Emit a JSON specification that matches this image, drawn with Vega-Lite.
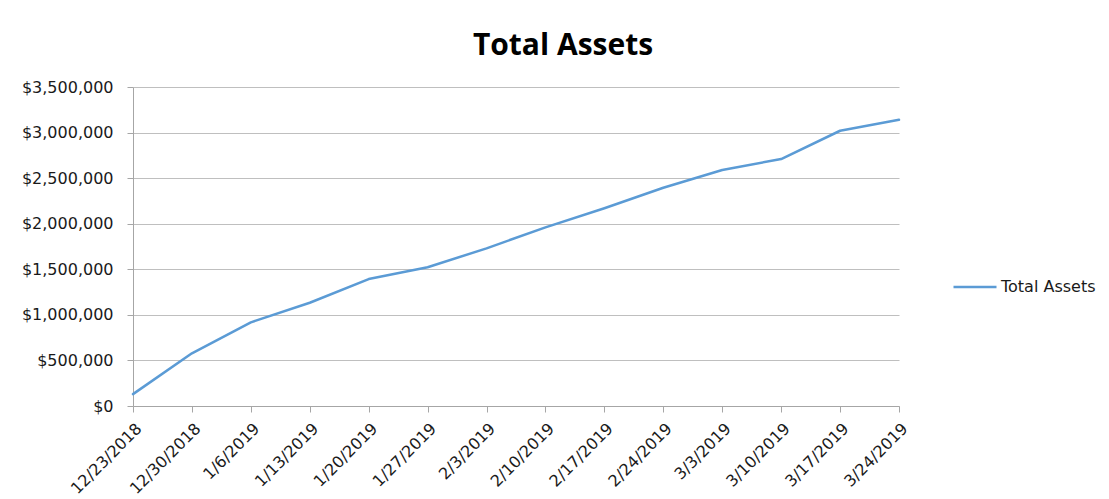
{
  "$schema": "https://vega.github.io/schema/vega-lite/v6.json",
  "autosize": {"type": "none"},
  "padding": {"left": 133, "top": 87, "right": 210, "bottom": 93},
  "width": 766,
  "height": 319,
  "background": "white",
  "title": {
    "text": "Total Assets",
    "font": "Open Sans",
    "fontSize": 30,
    "fontWeight": "bold",
    "color": "#000000",
    "anchor": "middle",
    "dx": 47,
    "offset": 18
  },
  "data": {
    "values": [
      {"date": "12/23/2018", "value": 130000, "series": "Total Assets"},
      {"date": "12/30/2018", "value": 578000, "series": "Total Assets"},
      {"date": "1/6/2019", "value": 918000, "series": "Total Assets"},
      {"date": "1/13/2019", "value": 1133000, "series": "Total Assets"},
      {"date": "1/20/2019", "value": 1393000, "series": "Total Assets"},
      {"date": "1/27/2019", "value": 1522000, "series": "Total Assets"},
      {"date": "2/3/2019", "value": 1730000, "series": "Total Assets"},
      {"date": "2/10/2019", "value": 1960000, "series": "Total Assets"},
      {"date": "2/17/2019", "value": 2170000, "series": "Total Assets"},
      {"date": "2/24/2019", "value": 2395000, "series": "Total Assets"},
      {"date": "3/3/2019", "value": 2590000, "series": "Total Assets"},
      {"date": "3/10/2019", "value": 2710000, "series": "Total Assets"},
      {"date": "3/17/2019", "value": 3020000, "series": "Total Assets"},
      {"date": "3/24/2019", "value": 3140000, "series": "Total Assets"}
    ]
  },
  "mark": {"type": "line", "strokeWidth": 2.5, "strokeCap": "round", "strokeJoin": "round"},
  "encoding": {
    "x": {
      "field": "date",
      "type": "ordinal",
      "sort": null,
      "scale": {"type": "point", "padding": 0},
      "axis": {
        "title": null,
        "labelAngle": -45,
        "labelAlign": "right",
        "labelBaseline": "top",
        "labelFont": "DejaVu Sans",
        "labelFontSize": 16,
        "labelColor": "#1a1a1a",
        "labelPadding": 8,
        "tickSize": 6,
        "tickColor": "#a6a6a6",
        "domainColor": "#a6a6a6",
        "grid": false
      }
    },
    "y": {
      "field": "value",
      "type": "quantitative",
      "scale": {"domain": [0, 3500000], "nice": false},
      "axis": {
        "title": null,
        "values": [0, 500000, 1000000, 1500000, 2000000, 2500000, 3000000, 3500000],
        "format": "$,.0f",
        "labelFont": "DejaVu Sans",
        "labelFontSize": 16,
        "labelColor": "#1a1a1a",
        "labelPadding": 14,
        "tickSize": 6,
        "tickColor": "#a6a6a6",
        "domainColor": "#a6a6a6",
        "grid": true,
        "gridColor": "#bfbfbf",
        "gridWidth": 1
      }
    },
    "color": {
      "field": "series",
      "type": "nominal",
      "scale": {"range": ["#5b9bd5"]},
      "legend": {
        "title": null,
        "orient": "none",
        "legendX": 819,
        "legendY": 177,
        "symbolType": "stroke",
        "symbolSize": 1849,
        "symbolStrokeWidth": 2.5,
        "labelFont": "DejaVu Sans",
        "labelFontSize": 16,
        "labelColor": "#1a1a1a",
        "labelOffset": 3
      }
    }
  },
  "config": {
    "view": {"stroke": null}
  }
}
